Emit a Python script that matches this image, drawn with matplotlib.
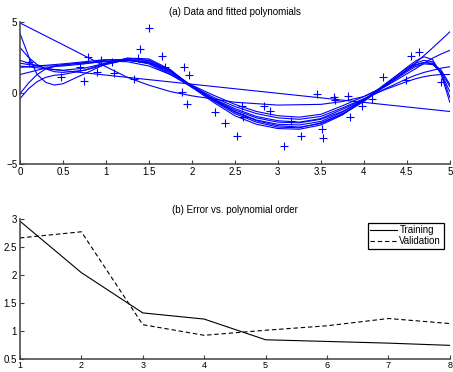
import matplotlib
matplotlib.use("Agg")
import matplotlib.pyplot as plt

plt.rcParams['font.family'] = ['Liberation Sans', 'DejaVu Sans']
plt.rcParams['font.size'] = 7

# ---- (a) data points ----
data_x = [0.10, 0.48, 0.70, 0.74, 0.79, 0.90, 0.94, 1.09, 1.07, 1.33, 1.37, 1.40, 1.50,
          1.65, 1.69, 1.91, 1.97, 1.89, 1.94, 2.27, 2.38, 2.52, 2.58, 2.60, 2.84, 2.91,
          3.07, 3.15, 3.27, 3.45, 3.51, 3.52, 3.65, 3.66, 3.82, 3.84, 3.98, 4.10, 4.22,
          4.49, 4.55, 4.64, 4.90]
data_y = [2.2, 1.15, 1.85, 0.85, 2.55, 1.45, 2.3, 1.4, 2.2, 1.0, 2.45, 3.1, 4.6,
          2.6, 1.85, 1.8, 1.25, 0.1, -0.8, -1.35, -2.1, -3.0, -0.9, -1.7, -0.9, -1.25,
          -3.7, -1.95, -3.0, -0.1, -2.5, -3.15, -0.3, -0.5, -0.2, -1.7, -0.9, -0.4, 1.1,
          0.9, 2.6, 2.9, 0.8]

# ---- (a) fitted curves ----
line_x = [0, 5]
line_y = [1.9, -1.3]

quad_x = [0, 0.5, 1.0, 1.25, 1.5, 1.75, 2.0, 2.5, 3.0, 3.5, 3.75, 4.0, 4.25, 4.5, 4.75, 5.0]
quad_y = [4.93, 3.4, 1.85, 1.1, 0.55, 0.1, -0.2, -0.65, -0.85, -0.8, -0.6, -0.25, 0.5, 1.6, 2.9, 4.3]

grid_x = [0, 0.1, 0.2, 0.3, 0.4, 0.5, 0.75, 1.0, 1.25, 1.5, 1.75, 2.0, 2.25, 2.5, 2.75,
          3.0, 3.25, 3.5, 3.75, 4.0, 4.25, 4.5, 4.6, 4.7, 4.8, 4.9, 5.0]
curves_y = [
    [4.2, 2.6, 1.3, 0.75, 0.56, 0.65, 1.35, 2.05, 2.45, 2.3, 1.55, 0.45, -0.55, -1.45, -2.05,
     -2.4, -2.45, -2.1, -1.45, -0.55, 0.6, 1.8, 2.25, 2.55, 2.35, 1.3, -0.65],
    [3.2, 2.5, 2.0, 1.7, 1.5, 1.45, 1.6, 2.0, 2.35, 2.3, 1.6, 0.5, -0.45, -1.3, -1.9,
     -2.2, -2.25, -2.0, -1.35, -0.45, 0.55, 1.6, 1.95, 2.15, 2.1, 1.6, 0.6],
    [2.3, 2.1, 1.9, 1.75, 1.65, 1.6, 1.75, 2.1, 2.3, 2.2, 1.5, 0.45, -0.5, -1.35, -1.95,
     -2.3, -2.4, -2.15, -1.5, -0.6, 0.5, 1.65, 2.0, 2.15, 2.05, 1.4, 0.1],
    [2.1, 2.0, 1.95, 1.9, 1.9, 1.9, 2.05, 2.25, 2.3, 2.1, 1.4, 0.5, -0.3, -0.95, -1.45,
     -1.75, -1.85, -1.65, -1.05, -0.4, 0.25, 0.8, 1.0, 1.15, 1.25, 1.3, 1.3],
    [1.8, 1.85, 1.9, 1.95, 2.0, 2.05, 2.2, 2.35, 2.35, 2.05, 1.3, 0.4, -0.4, -1.1, -1.65,
     -1.95, -2.05, -1.8, -1.15, -0.45, 0.3, 1.0, 1.25, 1.45, 1.6, 1.75, 1.85],
    [1.3, 1.45, 1.6, 1.75, 1.85, 1.95, 2.15, 2.25, 2.2, 1.9, 1.3, 0.55, -0.15, -0.8, -1.3,
     -1.6, -1.7, -1.5, -0.9, -0.25, 0.45, 1.35, 1.7, 2.1, 2.45, 2.75, 3.0],
    [-0.05, 0.7, 1.3, 1.7, 1.9, 2.0, 2.1, 2.2, 2.3, 2.15, 1.5, 0.5, -0.45, -1.2, -1.75,
     -2.05, -2.1, -1.85, -1.3, -0.5, 0.5, 1.5, 1.85, 2.05, 2.0, 1.5, 0.45],
    [-0.4, 0.3, 0.8, 1.1, 1.25, 1.3, 1.6, 2.1, 2.45, 2.4, 1.65, 0.4, -0.65, -1.6, -2.2,
     -2.5, -2.55, -2.25, -1.55, -0.5, 0.65, 1.75, 2.1, 2.3, 2.2, 1.4, -0.3],
]

# ---- (b) error vs order ----
orders = [1, 2, 3, 4, 5, 6, 7, 8]
train_err = [2.97, 2.05, 1.33, 1.22, 0.85, 0.82, 0.79, 0.75]
valid_err = [2.67, 2.78, 1.12, 0.93, 1.02, 1.10, 1.23, 1.14]

blue = (0, 0, 1)
fig = plt.figure(figsize=(4.53, 3.72), dpi=100)

def style(ax):
    for s in ['top', 'right']:
        ax.spines[s].set_visible(False)
    for s in ['left', 'bottom']:
        ax.spines[s].set_color('0.25')
        ax.spines[s].set_linewidth(1.1)
    ax.tick_params(direction='in', length=3, width=0.8, color='0.25', pad=2, labelsize=7)

ax1 = fig.add_axes([0.044, 0.559, 0.949, 0.382])
ax1.plot(line_x, line_y, color=blue, lw=0.8)
ax1.plot(quad_x, quad_y, color=blue, lw=0.8)
for cy in curves_y:
    ax1.plot(grid_x, cy, color=blue, lw=0.8)
ax1.plot(data_x, data_y, '+', color=blue, markersize=5.5, markeredgewidth=0.8)
ax1.set_xlim(0, 5)
ax1.set_ylim(-5, 5)
ax1.set_xticks([0, 0.5, 1, 1.5, 2, 2.5, 3, 3.5, 4, 4.5, 5])
ax1.set_xticklabels(['0', '0.5', '1', '1.5', '2', '2.5', '3', '3.5', '4', '4.5', '5'])
ax1.set_yticks([-5, 0, 5])
ax1.set_yticklabels(['\u22125', '0', '5'])
ax1.set_title('(a) Data and fitted polynomials', fontsize=7, pad=5)
style(ax1)

ax2 = fig.add_axes([0.044, 0.034, 0.949, 0.376])
ax2.plot(orders, train_err, color='k', lw=0.8, label='Training')
ax2.plot(orders, valid_err, color='k', lw=0.8, dashes=(4, 2.5), label='Validation')
ax2.set_xlim(1, 8)
ax2.set_ylim(0.5, 3)
ax2.set_xticks(orders)
ax2.set_yticks([0.5, 1, 1.5, 2, 2.5, 3])
ax2.set_yticklabels(['0.5', '1', '1.5', '2', '2.5', '3'])
ax2.set_title('(b) Error vs. polynomial order', fontsize=7, pad=5)
style(ax2)
ax2.tick_params(axis='x', pad=1, labelsize=6.5)
leg = ax2.legend(loc='upper right', bbox_to_anchor=(0.99, 0.99), fontsize=7, fancybox=False,
                 framealpha=1, borderpad=0.25, labelspacing=0.1, handlelength=2.8,
                 handletextpad=0.2, borderaxespad=0.2)
leg.get_frame().set_edgecolor('k')
leg.get_frame().set_linewidth(0.9)

fig.savefig('out.png', dpi=100)
